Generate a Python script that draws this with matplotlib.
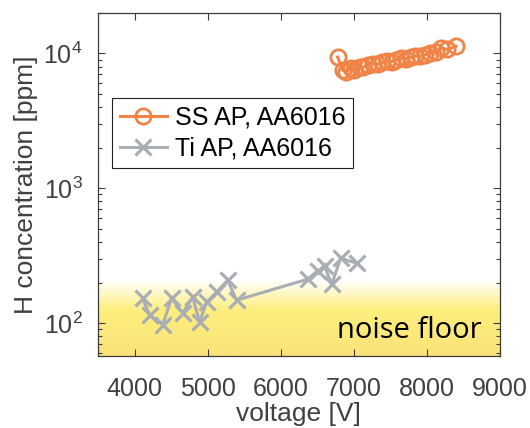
import numpy as np
import matplotlib
matplotlib.use('Agg')
import matplotlib.pyplot as plt
from matplotlib.colors import to_rgb

plt.rcParams['font.family'] = ['Liberation Sans', 'DejaVu Sans']
plt.rcParams['mathtext.default'] = 'regular'

# SS AP, AA6016
ss_voltage = [6780, 6850, 6900, 6960, 7010, 7080, 7130, 7200, 7260, 7330, 7390, 7450, 7520,
              7580, 7650, 7710, 7780, 7840, 7910, 7980, 8050, 8120, 8200, 8280, 8400]
ss_conc = [9400, 7500, 7300, 7800, 7600, 8000, 7900, 8200, 8400, 8300, 8600, 8800, 8700,
           9000, 9200, 9100, 9400, 9600, 9500, 9800, 10000, 10300, 11000, 10700, 11300]

# Ti AP, AA6016
ti_voltage = [4110, 4205, 4384, 4507, 4658, 4795, 4890, 4986, 5123, 5274, 5397,
              6370, 6507, 6603, 6699, 6822, 7041]
ti_conc = [153, 115, 97, 153, 119, 156, 102, 143, 170, 208, 148,
           212, 243, 264, 194, 303, 278]

noise_full = 125     # fully yellow below this
noise_top = 210      # white above this
y_lim = (57, 2.0e4)
x_lim = (3500, 9000)

orange = '#ef8446'
grey = '#a9aeb5'
yellow = '#fdee7c'
yellow_dark = '#fae27a'
axis_col = '#3c3c3c'

fig = plt.figure(figsize=(5.3, 4.28), dpi=100)
ax = fig.add_axes([0.185, 0.168, 0.758, 0.802])
ax.set_yscale('log')
ax.set_xlim(*x_lim)
ax.set_ylim(*y_lim)

# noise floor gradient
levels = np.logspace(np.log10(y_lim[0]), np.log10(noise_top), 120)
w = np.array(to_rgb('white'))
y1 = np.array(to_rgb(yellow))
y2 = np.array(to_rgb(yellow_dark))
for lo, hi in zip(levels[:-1], levels[1:]):
    mid = np.sqrt(lo * hi)
    if mid >= noise_full:
        t = (np.log10(noise_top) - np.log10(mid)) / (np.log10(noise_top) - np.log10(noise_full))
        c = w + (y1 - w) * t
    else:
        t = (np.log10(noise_full) - np.log10(mid)) / (np.log10(noise_full) - np.log10(y_lim[0]))
        c = y1 + (y2 - y1) * t
    ax.axhspan(lo, hi, color=c, lw=0, zorder=0)

ax.plot(ss_voltage, ss_conc, color=orange, lw=2.2, marker='o', ms=11, mfc='none',
        mew=2.0, label='SS AP, AA6016', zorder=3)
ax.plot(ti_voltage, ti_conc, color=grey, lw=2.2, marker='x', ms=11.5, mew=2.3,
        label='Ti AP, AA6016', zorder=3)

ax.text(0.955, 0.075, 'noise floor', transform=ax.transAxes, ha='right', va='center',
        fontsize=21, family=['Open Sans', 'DejaVu Sans'], color='black')

ax.set_xticks([4000, 5000, 6000, 7000, 8000, 9000])
ax.tick_params(which='both', direction='in', top=True, right=True, colors=axis_col,
               labelsize=18, labelcolor='#404040')
ax.tick_params(which='major', length=5, width=0.8)
ax.tick_params(which='minor', length=3, width=0.8)
ax.tick_params(axis='x', which='major', pad=15)
ax.tick_params(axis='y', which='major', pad=11)
for s in ax.spines.values():
    s.set_color(axis_col)
    s.set_linewidth(0.9)

ax.set_xlabel('voltage [V]', fontsize=19, color='#404040', labelpad=1)
ax.set_ylabel('H concentration [ppm]', fontsize=19, color='#404040', labelpad=4)

leg = ax.legend(loc='upper left', bbox_to_anchor=(0.035, 0.752), borderaxespad=0,
                fontsize=18, handlelength=1.9, handletextpad=0.3, labelspacing=0.3,
                borderpad=0.3, fancybox=False, framealpha=1, edgecolor='#222222')
leg.get_frame().set_linewidth(0.8)
for t in leg.get_texts():
    t.set_color('black')

fig.savefig('out.png', dpi=100)
